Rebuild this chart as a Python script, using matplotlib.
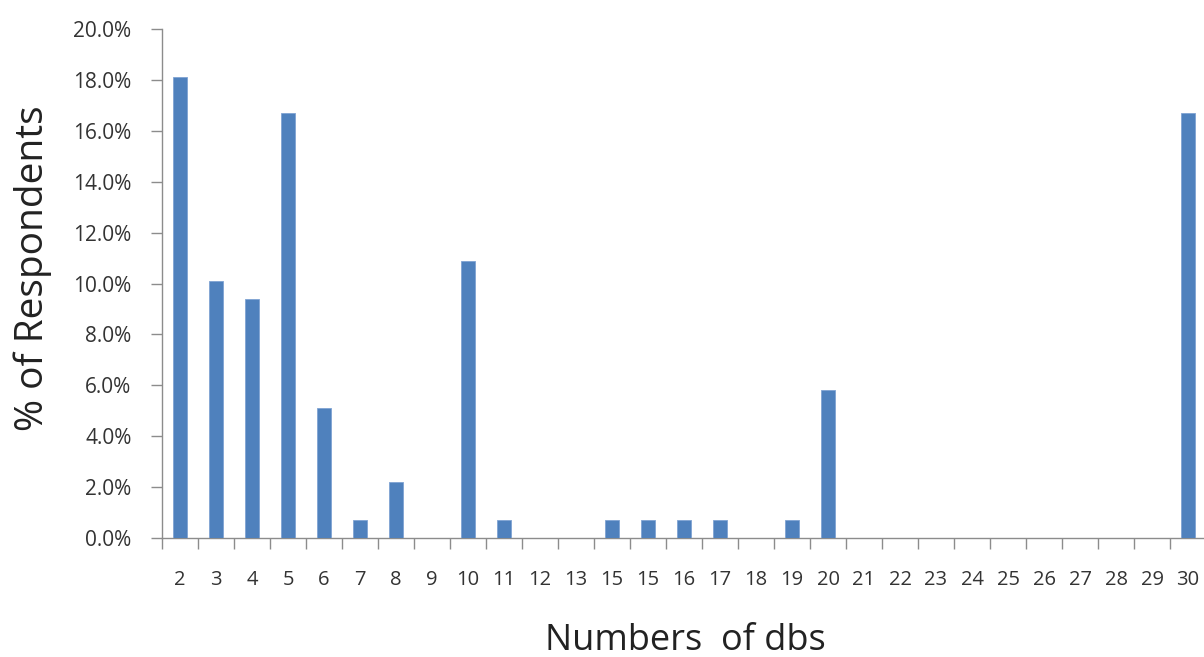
import matplotlib
matplotlib.use("Agg")
import matplotlib.pyplot as plt
from matplotlib.ticker import FixedLocator, FuncFormatter, NullFormatter

# category labels as printed on the chart (note the repeated "15")
categories = ["2", "3", "4", "5", "6", "7", "8", "9", "10", "11", "12", "13",
              "15", "15", "16", "17", "18", "19", "20", "21", "22", "23", "24",
              "25", "26", "27", "28", "29", "30"]
# % of respondents
values = [18.1, 10.1, 9.4, 16.7, 5.1, 0.7, 2.2, 0.0, 10.9, 0.7, 0.0, 0.0,
          0.7, 0.7, 0.7, 0.7, 0.0, 0.7, 5.8, 0.0, 0.0, 0.0, 0.0,
          0.0, 0.0, 0.0, 0.0, 0.0, 16.7]
y_ticks = [0, 2, 4, 6, 8, 10, 12, 14, 16, 18, 20]

plt.rcParams['font.family'] = ['Open Sans', 'DejaVu Sans']

W, H = 1204, 657
fig = plt.figure(figsize=(W / 100, H / 100), dpi=100)
ax = fig.add_axes([162 / W, (H - 538) / H, 1044 / W, 509 / H])

x = list(range(len(categories)))
ax.bar(x, values, width=0.4, color="#4F81BD", edgecolor="#7FA3D3", linewidth=0.6, zorder=3)

ax.set_xlim(-0.5, len(categories) - 0.5)
ax.set_ylim(0, 20)

grey = "#8C8C8C"
for s in ["top", "right"]:
    ax.spines[s].set_visible(False)
for s in ["left", "bottom"]:
    ax.spines[s].set_color(grey)
    ax.spines[s].set_linewidth(1.0)

ax.yaxis.set_major_locator(FixedLocator(y_ticks))
ax.yaxis.set_major_formatter(FuncFormatter(lambda v, p: f"{v:.1f}%"))
ax.tick_params(axis="y", direction="out", length=8, color=grey, width=1,
               labelsize=15, labelcolor="#333333", pad=14)

# labels centred on bars (major), boundary ticks without labels (minor)
ax.set_xticks(x)
ax.set_xticklabels(categories)
ax.tick_params(axis="x", which="major", length=0, labelsize=14.5, labelcolor="#333333", pad=23)
ax.xaxis.set_minor_locator(FixedLocator([i - 0.5 for i in range(len(categories) + 1)]))
ax.xaxis.set_minor_formatter(NullFormatter())
ax.tick_params(axis="x", which="minor", direction="out", length=8, color=grey, width=1)

fig.text(33 / W, 1 - 268 / H, "% of Respondents", fontsize=28, color="#222222",
         rotation=90, ha="center", va="center")
fig.text(685 / W, 1 - 641 / H, "Numbers  of dbs", fontsize=26, color="#222222",
         ha="center", va="center")

fig.savefig("out.png", dpi=100)
